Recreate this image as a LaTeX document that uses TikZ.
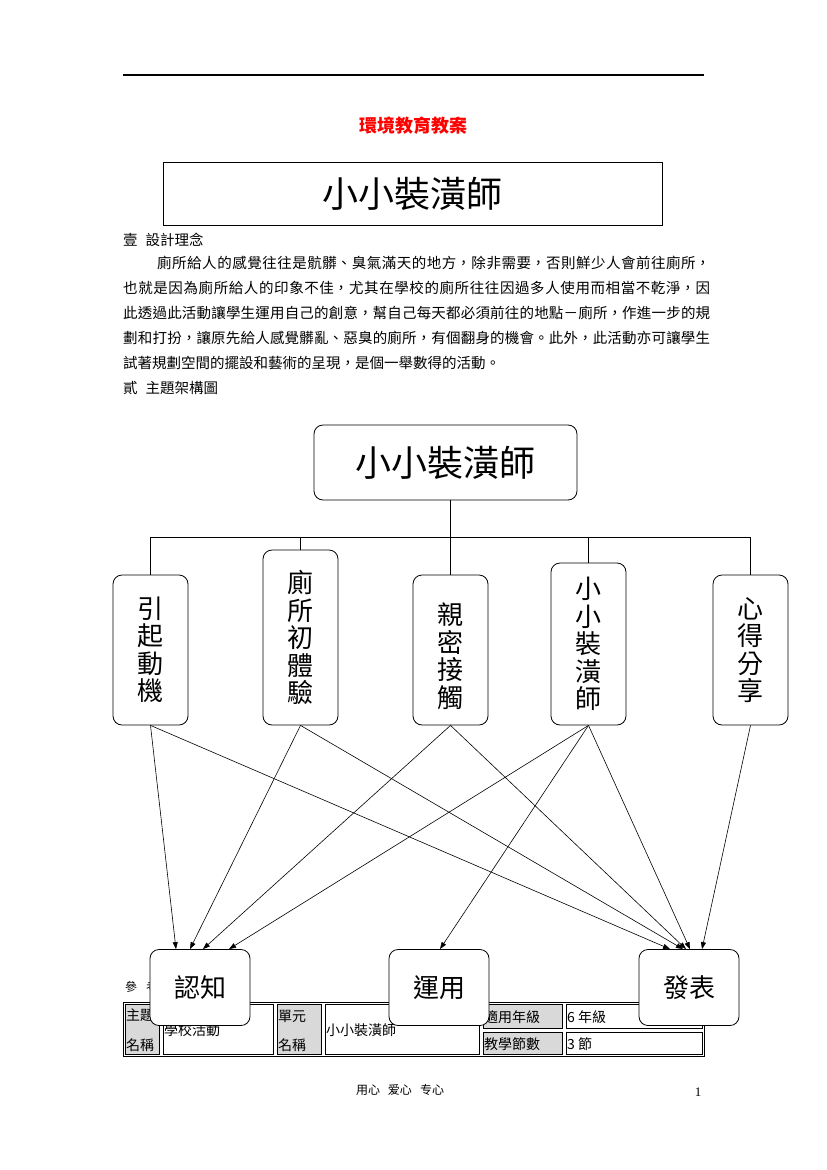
\documentclass[tikz,border=0pt]{standalone}
\usepackage{fontspec}
\setmainfont{Noto Sans CJK TC}
\newfontfamily\serifnum{Liberation Serif}
\usetikzlibrary{arrows.meta}
\XeTeXlinebreaklocale "zh"
\XeTeXlinebreakskip=0pt plus 2pt
\definecolor{cellgray}{RGB}{217,217,217}
\begin{document}
\begin{tikzpicture}[x=1pt,y=-1pt,
  rbox/.style={draw, rounded corners=9pt, fill=white, line width=0.8pt, inner sep=0pt},
  vtext/.style={align=center, font=\fontsize{26}{27.5}\selectfont},
  conn/.style={line width=0.6pt},
  arr/.style={conn, -{Triangle[length=7pt,width=5pt]}},
  cellb/.style={line width=0.6pt},
  tabtxt/.style={anchor=west, inner sep=0pt, font=\fontsize{14}{15}\selectfont},
  bodytxt/.style={anchor=west, inner sep=0pt, font=\fontsize{14.5}{16}\selectfont}]
\useasboundingbox (0,0) rectangle (827,1170);
\fill[white] (0,0) rectangle (827,1170);

% header rule
\draw[line width=1.2pt] (123,75) -- (704,75);

% title
\node[text=red, font=\bfseries\fontsize{18}{20}\selectfont] (title) at (413.5,126) {環境教育教案};

\node[draw, line width=0.8pt, minimum width=499pt, minimum height=63pt, inner sep=0pt,
      font=\fontsize{36}{40}\selectfont] (titlebox) at (412.5,193.5) {小小裝潢師};

\node[bodytxt] (sec1) at (123,240) {壹\hspace{8pt}設計理念};

\node[anchor=north west, inner sep=0pt, text width=587pt, align=justify,
      font=\fontsize{14.5}{25}\selectfont] (para) at (123,256)
{\tolerance=9999\hspace*{34pt}廁所給人的感覺往往是骯髒、臭氣滿天的地方，除非需要，否則鮮少人會前往廁所，\linebreak
也就是因為廁所給人的印象不佳，尤其在學校的廁所往往因過多人使用而相當不乾淨，因\linebreak
此透過此活動讓學生運用自己的創意，幫自己每天都必須前往的地點－廁所，作進一步的規\linebreak
劃和打扮，讓原先給人感覺髒亂、惡臭的廁所，有個翻身的機會。此外，此活動亦可讓學生\linebreak
試著規劃空間的擺設和藝術的呈現，是個一舉數得的活動。};

\node[bodytxt] (sec2) at (123,388) {貳\hspace{8pt}主題架構圖};

% table
\node[anchor=west, inner sep=0pt, font=\fontsize{12}{14}\selectfont] (ref) at (125,987) {參\hspace{9pt}考};
\fill[cellgray] (125,1004) rectangle (159,1054);
\fill[cellgray] (277,1004) rectangle (321,1054);
\fill[cellgray] (483,1004) rectangle (562,1028);
\fill[cellgray] (483,1032) rectangle (562,1054);
\draw[line width=1pt] (123,1002) rectangle (704,1056);
\draw[cellb] (125,1004) rectangle (159,1054);
\draw[cellb] (163,1004) rectangle (273,1054);
\draw[cellb] (277,1004) rectangle (321,1054);
\draw[cellb] (325,1004) rectangle (479,1054);
\draw[cellb] (483,1004) rectangle (562,1028);
\draw[cellb] (566,1004) rectangle (702,1028);
\draw[cellb] (483,1032) rectangle (562,1054);
\draw[cellb] (566,1032) rectangle (702,1054);
\node[tabtxt] (t1) at (126,1015) {主題};
\node[tabtxt] (t2) at (126,1045) {名稱};
\node[tabtxt] (t3) at (164,1030) {學校活動};
\node[tabtxt] (t4) at (278,1016) {單元};
\node[tabtxt] (t5) at (278,1045) {名稱};
\node[tabtxt] (t6) at (326,1030) {小小裝潢師};
\node[tabtxt] (t7) at (484,1017) {適用年級};
\node[tabtxt] (t8) at (567,1017) {6 年級};
\node[tabtxt] (t9) at (484,1044) {教學節數};
\node[tabtxt] (t10) at (567,1044) {3 節};

% diagram nodes
\node[rbox, minimum width=263pt, minimum height=75pt, font=\fontsize{36}{40}\selectfont] (top) at (445.5,462.5) {小小裝潢師};

\node[rbox, minimum width=75pt, minimum height=150pt] (c1) at (150.5,650) {};
\node[vtext] (c1t) at (c1) {引\\起\\動\\機};
\node[rbox, minimum width=75pt, minimum height=175pt] (c2) at (300.5,637.5) {};
\node[vtext] (c2t) at (c2) {廁\\所\\初\\體\\驗};
\node[rbox, minimum width=75pt, minimum height=150pt] (c3) at (450.5,650) {};
\node[vtext] (c3t) at ([yshift=-6pt]c3.center) {親\\密\\接\\觸};
\node[rbox, minimum width=75pt, minimum height=162pt] (c4) at (588.5,644) {};
\node[vtext] (c4t) at (c4) {小\\小\\裝\\潢\\師};
\node[rbox, minimum width=75pt, minimum height=150pt] (c5) at (750.5,650) {};
\node[vtext] (c5t) at (c5) {心\\得\\分\\享};

\node[rbox, minimum width=100pt, minimum height=76pt, font=\fontsize{26}{30}\selectfont] (b1) at (200,987.5) {認知};
\node[rbox, minimum width=100pt, minimum height=76pt, font=\fontsize{26}{30}\selectfont] (b2) at (439,987.5) {運用};
\node[rbox, minimum width=100pt, minimum height=76pt, font=\fontsize{26}{30}\selectfont] (b3) at (689,987.5) {發表};

% tree connectors
\coordinate (bus) at (450.5,537);
\draw[conn] (top.south -| c3.north) -- (c3.north);
\draw[conn] (c1.north) -- (c1.north |- bus) -- (c5.north |- bus) -- (c5.north);
\draw[conn] (c2.north) -- (c2.north |- bus);
\draw[conn] (c4.north) -- (c4.north |- bus);

% arrows
\draw[arr] (c1.south) -- ([xshift=-24pt]b1.north);
\draw[arr] (c2.south) -- ([xshift=-10pt]b1.north);
\draw[arr] (c3.south) -- ([xshift=3pt]b1.north);
\draw[arr] (c4.south) -- ([xshift=29pt]b1.north);
\draw[arr] (c4.south) -- ([xshift=1pt]b2.north);
\draw[arr] (c1.south) -- ([xshift=-19pt]b3.north);
\draw[arr] (c2.south) -- ([xshift=-6pt]b3.north);
\draw[arr] (c3.south) -- ([xshift=-3pt]b3.north);
\draw[arr] (c4.south) -- ([xshift=1pt]b3.north);
\draw[arr] (c5.south) -- ([xshift=13pt]b3.north);

% footer
\node[font=\fontsize{12}{14}\selectfont] (foot) at (400,1090) {用心\hspace{8pt}爱心\hspace{8pt}专心};
\node[font=\serifnum\fontsize{13}{15}\selectfont] (pnum) at (698,1092) {1};
\end{tikzpicture}
\end{document}
